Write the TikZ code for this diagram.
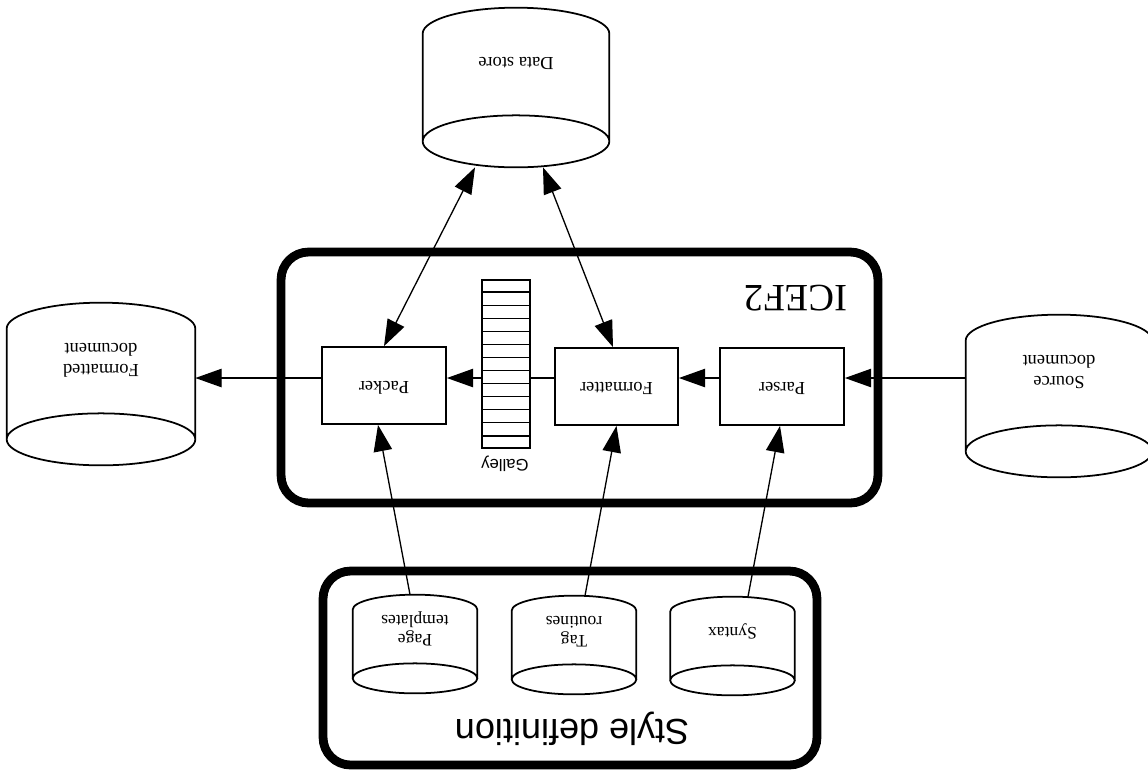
\documentclass[tikz,border=0pt]{standalone}
\usepackage{fontspec}
\setmainfont{Liberation Serif}
\setsansfont{Liberation Sans}
\usepackage{graphicx}
\usetikzlibrary{arrows.meta, calc, shapes.geometric}
\newcommand{\upside}[1]{\rotatebox[origin=c]{180}{\begin{tabular}{@{}c@{}}#1\end{tabular}}}
\tikzstyle{block} = [rectangle, draw, line width=1pt, fill=white, minimum width=2.48cm, minimum height=1.54cm, inner sep=0pt, font=\fontsize{10.5}{11.5}\selectfont]
\tikzstyle{drum} = [rectangle, inner sep=0pt, font=\fontsize{10.5}{11.5}\selectfont]
\tikzstyle{smalldrum} = [drum, minimum width=2.48cm, minimum height=1.36cm, font=\fontsize{10}{11}\selectfont]
\tikzstyle{outerbox} = [rectangle, draw, line width=5pt, rounded corners=0.55cm, inner sep=0pt]
\tikzstyle{drumline} = [line width=1pt]
\tikzstyle{arrow} = [-{Triangle[length=15pt, width=10.5pt]}, line width=0.75pt]
\tikzstyle{twoway} = [{Triangle[length=15pt, width=10.5pt]}-{Triangle[length=15pt, width=10.5pt]}, line width=0.75pt]
\begin{document}
\begin{tikzpicture}[x=0.02cm, y=-0.02cm]
    \useasboundingbox (0,0) rectangle (1148,769);

    % Frames
    \node[outerbox, minimum width=11.94cm, minimum height=5.02cm] (icef) at (579.5,377.5) {};
    \node[outerbox, minimum width=9.88cm, minimum height=3.88cm] (styledef) at (570,668) {};
    \node[font=\fontsize{22}{24}\selectfont] (iceflabel) at (796,294) {\upside{ICEF2}};
    \node[font=\sffamily\fontsize{20.5}{22}\selectfont] (stylelabel) at (572,727) {\upside{Style definition}};

    % Documents and store
    \node[drum, minimum width=3.72cm, minimum height=2.14cm] (store) at (516,61.5) {\upside{Data store}};
    \node[drum, minimum width=3.76cm, minimum height=2.2cm] (fmtdoc) at (101,358) {\upside{Formatted\\document}};
    \node[drum, minimum width=3.72cm, minimum height=2.2cm] (srcdoc) at (1059,370) {\upside{Source\\document}};

    % Style parts
    \node[smalldrum] (page) at (415,629) {\upside{Page\\templates}};
    \node[smalldrum] (tag) at (574,630) {\upside{Tag\\routines}};
    \node[smalldrum] (syntax) at (732.5,631) {\upside{Syntax}};

    % Cylinder outlines
    \foreach \nm/\ry in {store/0.52cm, fmtdoc/0.52cm, srcdoc/0.52cm, page/0.3cm, tag/0.3cm, syntax/0.3cm}
        \draw[drumline] let \p1=(\nm.north west), \p2=(\nm.south east) in
            (\x1,\y2-\ry) -- (\x1,\y1-\ry) arc[start angle=180, end angle=0, x radius={0.5*(\x2-\x1)}, y radius=\ry] -- (\x2,\y2-\ry)
            ({0.5*(\x1+\x2)},\y2-\ry) ellipse[x radius={0.5*(\x2-\x1)}, y radius=\ry];

    % Processes
    \node[block] (packer) at (384,385.5) {\upside{Packer}};
    \node[block, minimum width=2.46cm] (formatter) at (616.5,386.5) {\upside{Formatter}};
    \node[block] (parser) at (782,386.5) {\upside{Parser}};
    \coordinate (row) at (0,378);

    % Arrows
    \draw[arrow] (packer.west |- row) -- (fmtdoc.east |- row);
    \draw[arrow] (formatter.west |- row) -- (packer.east |- row);
    \draw[arrow] (parser.west |- row) -- (formatter.east |- row);
    \draw[arrow] (srcdoc.west |- row) -- (parser.east |- row);
    \draw[twoway] ([xshift=-0.82cm, yshift=-1.04cm]store.south) -- (packer.north);
    \draw[twoway] ([xshift=0.54cm, yshift=-1.04cm]store.south) -- ([xshift=-0.07cm]formatter.north);
    \draw[arrow] ([xshift=-0.1cm]page.north) -- ([xshift=-0.12cm]packer.south);
    \draw[arrow] ([xshift=0.22cm]tag.north) -- (formatter.south);
    \draw[arrow] ([xshift=0.31cm]syntax.north) -- ([xshift=-0.04cm]parser.south);

    % Galley
    \node[rectangle, draw, line width=0.9pt, fill=white, minimum width=0.96cm, minimum height=3.36cm, inner sep=0pt] (galley) at (506,364) {};
    \foreach \i in {1,...,12}
        \draw[line width=0.9pt] ($(galley.north west)!\i/13!(galley.south west)$) -- ($(galley.north east)!\i/13!(galley.south east)$);
    \node[font=\sffamily\fontsize{9.5}{10}\selectfont] (galleylabel) at (505,463) {\upside{Galley}};
\end{tikzpicture}
\end{document}
